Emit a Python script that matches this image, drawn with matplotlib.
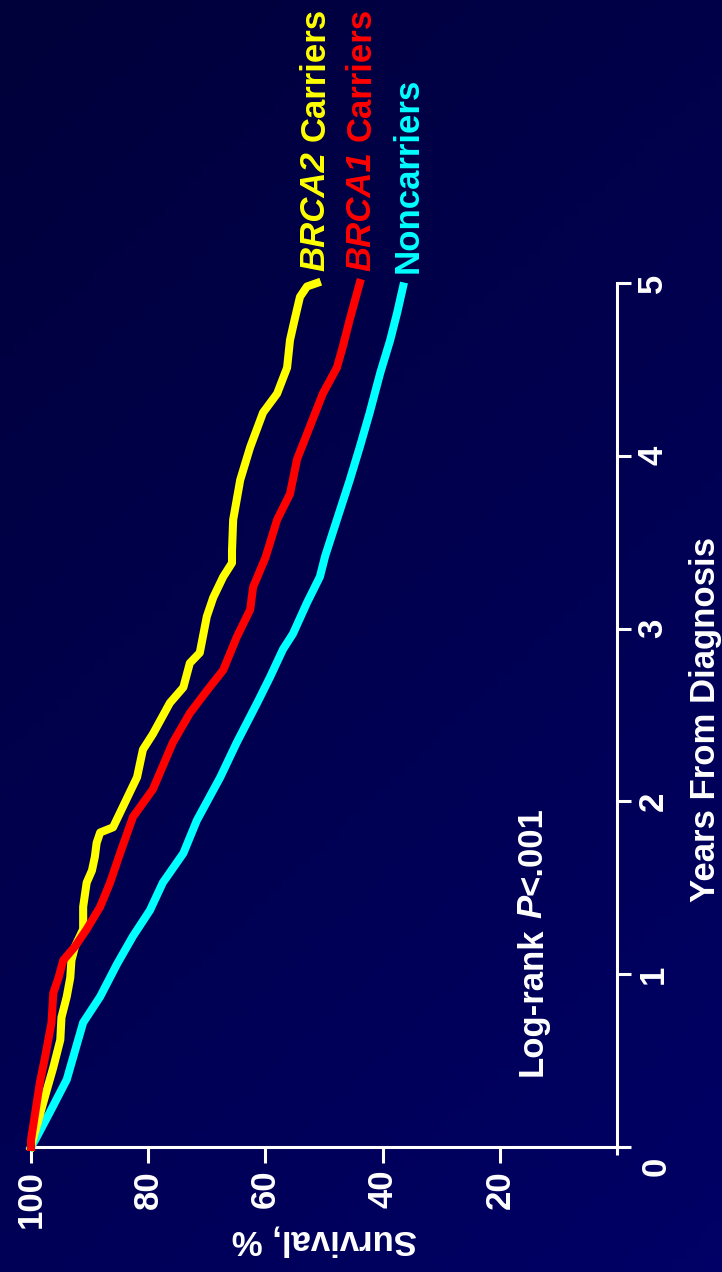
import matplotlib
matplotlib.use('Agg')
import matplotlib.pyplot as plt
import numpy as np
from matplotlib.colors import LinearSegmentedColormap
from matplotlib.transforms import IdentityTransform

plt.rcParams['font.family'] = ['Liberation Sans', 'DejaVu Sans']
plt.rcParams['font.weight'] = 'bold'

# ---------------- data ----------------
brca2_years = [0, 0.04, 0.33, 0.46, 0.62, 0.75, 0.87, 0.98, 1.08, 1.16, 1.26, 1.39, 1.53,
               1.60, 1.68, 1.76, 1.82, 1.85, 1.97, 2.14, 2.30, 2.39, 2.57, 2.66, 2.80, 2.86,
               3.07, 3.18, 3.30, 3.38, 3.45, 3.63, 3.86, 4.05, 4.25, 4.36, 4.51, 4.67, 4.79,
               4.92, 4.98, 5.0]
brca2_surv = [100, 99.7, 97.3, 96.2, 95.0, 94.8, 93.9, 93.3, 93.1, 92.5, 91.1, 91.1, 90.5,
              89.6, 89.1, 88.8, 88.2, 86.0, 84.3, 81.9, 80.9, 79.2, 76.3, 74.0, 72.9, 71.2,
              70.0, 68.9, 67.2, 65.7, 65.7, 65.5, 64.3, 62.6, 60.4, 58.0, 56.3, 55.8, 55.0,
              54.1, 52.9, 51.2]

brca1_years = [0, 0.04, 0.37, 0.52, 0.72, 0.89, 0.98, 1.08, 1.16, 1.26, 1.39, 1.53, 1.70,
               1.91, 2.07, 2.34, 2.51, 2.64, 2.76, 2.95, 3.11, 3.24, 3.41, 3.63, 3.78, 3.98,
               4.17, 4.36, 4.51, 4.63, 4.79, 5.0]
brca1_surv = [100, 100, 98.5, 97.6, 96.5, 96.2, 95.3, 94.5, 92.5, 90.5, 88.2, 86.5, 84.8,
              82.6, 79.2, 75.8, 72.9, 70.0, 67.2, 64.9, 62.6, 62.1, 60.0, 58.0, 55.8, 54.6,
              52.4, 50.2, 47.8, 46.8, 45.6, 43.9]

non_years = [0, 0.04, 0.20, 0.39, 0.52, 0.72, 0.87, 1.06, 1.22, 1.37, 1.53, 1.70, 1.89,
             2.14, 2.34, 2.57, 2.72, 2.88, 2.97, 3.15, 3.30, 3.42, 3.63, 3.86, 4.05, 4.25,
             4.48, 4.67, 4.83, 4.98]
non_surv = [100, 99.3, 96.8, 93.9, 92.8, 91.1, 88.2, 85.3, 82.6, 79.7, 77.5, 74.0, 71.7,
            67.7, 64.9, 61.4, 59.2, 57.0, 55.3, 52.9, 50.7, 49.8, 47.8, 45.6, 43.9, 42.2,
            40.4, 38.7, 37.5, 36.5]

surv_ticks = [100, 80, 60, 40, 20]
year_ticks = [0, 1, 2, 3, 4, 5]
year_tick_labels = ['', '1', '2', '3', '4', '5']

# ---------------- figure ----------------
W, H = 722, 1272
fig = plt.figure(figsize=(W / 100, H / 100), dpi=100)
fig.patch.set_facecolor('#00004c')

bg = fig.add_axes([0, 0, 1, 1], zorder=-5)
bg.axis('off')
gx, gy = np.meshgrid(np.linspace(0, 1, 100), np.linspace(0, 1, 100))
cmap = LinearSegmentedColormap.from_list('bg', ['#00003a', '#000066'])
bg.imshow(0.65 * gy + 0.35 * gx, cmap=cmap, aspect='auto', extent=[0, 1, 0, 1],
          origin='upper', vmin=0, vmax=1)
bg.set_xlim(0, 1)
bg.set_ylim(0, 1)

ax = fig.add_axes([31 / W, (H - 1147) / H, 586 / W, 864 / H])
ax.patch.set_alpha(0)
ax.set_xlim(100, 0)
ax.set_ylim(0, 5)
for s in ['top', 'left']:
    ax.spines[s].set_visible(False)
for s in ['bottom', 'right']:
    ax.spines[s].set_color('white')
    ax.spines[s].set_linewidth(2.2)

ax.plot(non_surv, non_years, color='#00ffff', lw=5.8, clip_on=False, zorder=3,
        solid_joinstyle='round')
ax.plot(brca2_surv, brca2_years, color='#ffff00', lw=5.8, clip_on=False, zorder=4,
        solid_joinstyle='round')
ax.plot(brca1_surv, brca1_years, color='#ff0000', lw=5.8, clip_on=False, zorder=5,
        solid_joinstyle='round')

ax.yaxis.tick_right()
ax.set_xticks(surv_ticks)
ax.set_xticklabels([str(v) for v in surv_ticks])
ax.set_xticks([0], minor=True)
ax.set_yticks(year_ticks)
ax.set_yticklabels(year_tick_labels)
ax.tick_params(axis='x', which='major', direction='out', length=11.5, width=2.2,
               colors='white', pad=5, labelsize=25, labelrotation=90)
ax.tick_params(axis='x', which='minor', direction='out', length=6, width=2.2,
               colors='white')
ax.tick_params(axis='y', direction='out', length=10, width=2.2, colors='white',
               pad=4, labelsize=25, labelrotation=90)
for lbl in ax.get_yticklabels():
    lbl.set_va('center')
    lbl.set_ha('left')

px = IdentityTransform()
fig.text(656, H - 1166, '0', transform=px, rotation=90, ha='center', va='center',
         color='white', fontsize=25)
fig.text(706, H - 720, 'Years From Diagnosis', transform=px, rotation=90,
         ha='center', va='center', color='white', fontsize=25)
fig.text(324, H - 1240, 'Survival, %', transform=px, rotation=180,
         ha='center', va='center', color='white', fontsize=25)

renderer = fig.canvas.get_renderer()
SPACE = 0.278 * 25 * 100 / 72


def chain(x, y_start, parts, color):
    y = H - y_start
    for text, style, gap in parts:
        y += gap
        t = fig.text(x, y, text, transform=px, rotation=90, ha='center', va='bottom',
                     color=color, fontsize=25, fontstyle=style)
        y = t.get_window_extent(renderer).y1


chain(532, 1076, [('Log-rank', 'normal', 0), ('P', 'italic', SPACE),
                  ('<.001', 'normal', 0)], 'white')
chain(315, 271, [('BRCA2', 'italic', 0), ('Carriers', 'normal', SPACE)], '#ffff00')
chain(361, 271, [('BRCA1', 'italic', 0), ('Carriers', 'normal', SPACE)], '#ff0000')
chain(408, 273, [('Noncarriers', 'normal', 0)], '#00ffff')

fig.savefig('out.png', dpi=100, facecolor=fig.get_facecolor())
